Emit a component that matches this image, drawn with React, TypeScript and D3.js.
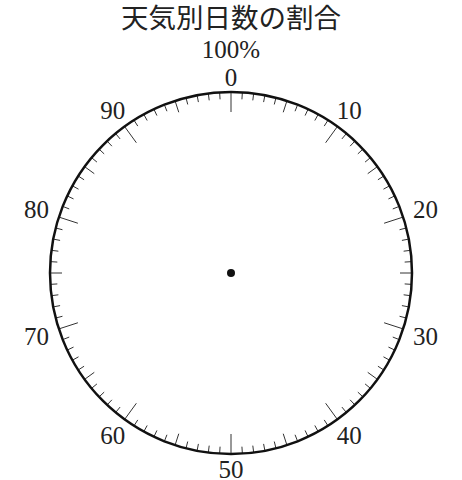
import React, { useEffect, useRef } from 'react';
import * as d3 from 'd3';

// percentage scale around the dial
const titleText = '天気別日数の割合';
const topLabel = '100%';
const tickValues = d3.range(0, 100, 1);
const labelValues = [0, 10, 20, 30, 40, 50, 60, 70, 80, 90];

const App: React.FC = () => {
  const svgRef = useRef<SVGSVGElement>(null);

  useEffect(() => {
    const svg = d3.select(svgRef.current);
    svg.selectAll('*').remove();

    const cx = 231;
    const cy = 273;
    const r = 181;

    const angle = d3.scaleLinear().domain([0, 100]).range([0, 2 * Math.PI]);
    const px = (a: number, rad: number) => cx + rad * Math.sin(a);
    const py = (a: number, rad: number) => cy - rad * Math.cos(a);
    const tickLen = (v: number) => (v % 10 === 0 ? 20 : v % 5 === 0 ? 12 : 7);
    // labels sit a bit further out at the sides, where the text is wider
    const labelR = (v: number) => r + 15 + 9 * Math.abs(Math.sin(angle(v)));

    svg.append('text')
      .attr('x', cx)
      .attr('y', 16)
      .attr('text-anchor', 'middle')
      .attr('dominant-baseline', 'central')
      .attr('font-family', '"Noto Sans CJK JP", sans-serif')
      .attr('font-size', 27.5)
      .attr('fill', '#222')
      .text(titleText);

    svg.append('text')
      .attr('x', cx)
      .attr('y', 49)
      .attr('text-anchor', 'middle')
      .attr('dominant-baseline', 'central')
      .attr('font-family', '"Liberation Serif", serif')
      .attr('font-size', 25)
      .attr('fill', '#222')
      .text(topLabel);

    svg.append('g')
      .selectAll('line')
      .data(tickValues)
      .join('line')
      .attr('x1', d => px(angle(d), r))
      .attr('y1', d => py(angle(d), r))
      .attr('x2', d => px(angle(d), r - tickLen(d)))
      .attr('y2', d => py(angle(d), r - tickLen(d)))
      .attr('stroke', '#333')
      .attr('stroke-width', 1);

    svg.append('circle')
      .attr('cx', cx)
      .attr('cy', cy)
      .attr('r', r)
      .attr('fill', 'none')
      .attr('stroke', '#111')
      .attr('stroke-width', 2.5);

    svg.append('g')
      .selectAll('text')
      .data(labelValues)
      .join('text')
      .attr('x', d => px(angle(d), labelR(d)))
      .attr('y', d => py(angle(d), labelR(d)))
      .attr('text-anchor', 'middle')
      .attr('dominant-baseline', 'central')
      .attr('font-family', '"Liberation Serif", serif')
      .attr('font-size', 25)
      .attr('fill', '#222')
      .text(d => String(d));

    svg.append('circle')
      .attr('cx', cx)
      .attr('cy', cy)
      .attr('r', 4)
      .attr('fill', '#111');
  }, []);

  return (
    <svg
      ref={svgRef}
      width={462}
      height={480}
      style={{ position: 'absolute', left: 0, top: 0, background: '#fff' }}
    />
  );
};

export default App;
